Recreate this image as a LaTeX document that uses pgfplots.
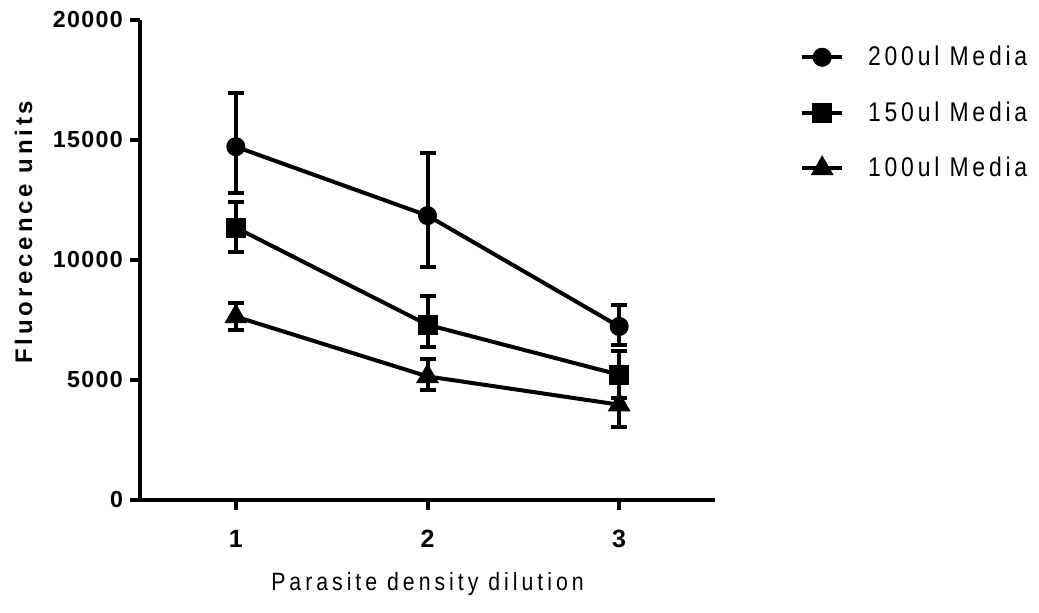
\documentclass[border=0pt]{standalone}
\usepackage{fontspec}
\setmainfont{Liberation Sans}
\newfontfamily\spaced{Liberation Sans}[LetterSpace=16]
\newfontfamily\xlabfont{Liberation Sans}[LetterSpace=16, FakeStretch=0.85]
\newfontfamily\legfont{Liberation Sans}[LetterSpace=14, FakeStretch=0.85]
\newfontfamily\tickfont{Liberation Sans}[LetterSpace=6]
\usepackage{pgfplots}
\usepackage{pgfplotstable}
\pgfplotsset{compat=1.18}
\pgfplotstableread{
x y ep em
1 14720 2220 1920
2 11850 2620 2140
3 7230 910 760
}\dataA
\pgfplotstableread{
x y ep em
1 11350 1070 1010
2 7300 1210 930
3 5220 1000 980
}\dataB
\pgfplotstableread{
x y ep em
1 7640 570 570
2 5150 720 560
3 3970 940 940
}\dataC
\pgfplotsset{myerr/.style={
  error bars/.cd, y dir=both, y explicit,
  error mark options={rotate=90, line width=2pt, mark size=4pt, black},
  error bar style={line width=2pt, black}}}
\begin{document}
\begin{tikzpicture}
\path (0,0) rectangle (519.5pt,306pt);
\begin{axis}[
  at={(70pt,56pt)}, anchor=south west,
  scale only axis, width=287.5pt, height=240pt,
  xmin=0.5, xmax=3.5, ymin=0, ymax=20000,
  xtick={1,2,3}, ytick={0,5000,10000,15000,20000},
  scaled y ticks=false,
  yticklabel style={/pgf/number format/1000 sep={}},
  /pgf/number format/assume math mode=true,
  axis lines*=left,
  axis line style={line width=2pt, -},
  tick align=outside,
  major tick length=5pt,
  tick style={line width=2pt, black},
  ticklabel style={font=\fontsize{11.6}{13}\tickfont\bfseries},
  xticklabel style={yshift=-6.5pt, font=\fontsize{12.5}{14}\tickfont\bfseries},
  xlabel={Parasite density dilution},
  ylabel={Fluorecence units},
  xlabel style={at={(axis description cs:0.5,-0.1875)}, anchor=base, font=\fontsize{12.5}{14}\xlabfont},
  ylabel style={at={(axis description cs:-0.2026,0.558)}, anchor=center, font=\fontsize{12}{14}\spaced\bfseries},
  clip=false,
  legend cell align=left,
  legend style={at={(axis description cs:1.137,0.955)}, anchor=north west, draw=none, fill=none,
    column sep=12pt, row sep=16.5pt, font=\fontsize{13.5}{15}\legfont, nodes={inner sep=0pt}},
  legend image code/.code={
    \draw[#1, mark=none] (0pt,0pt) -- (20pt,0pt);
    \draw[#1, only marks] plot coordinates {(10pt,0pt)};
  },
]
\addplot[black, line width=2pt, mark=*, mark size=3.75pt, mark options={solid, fill=black, draw=black}, myerr] table[x=x, y=y, y error plus=ep, y error minus=em] {\dataA};
\addlegendentry{200ul Media}
\addplot[black, line width=2pt, mark=square*, mark size=4pt, mark options={solid, fill=black, draw=black}, myerr] table[x=x, y=y, y error plus=ep, y error minus=em] {\dataB};
\addlegendentry{150ul Media}
\addplot[black, line width=2pt, mark=triangle*, mark size=4.6pt, mark options={solid, fill=black, draw=black}, myerr] table[x=x, y=y, y error plus=ep, y error minus=em] {\dataC};
\addlegendentry{100ul Media}
\end{axis}
\end{tikzpicture}
\end{document}
